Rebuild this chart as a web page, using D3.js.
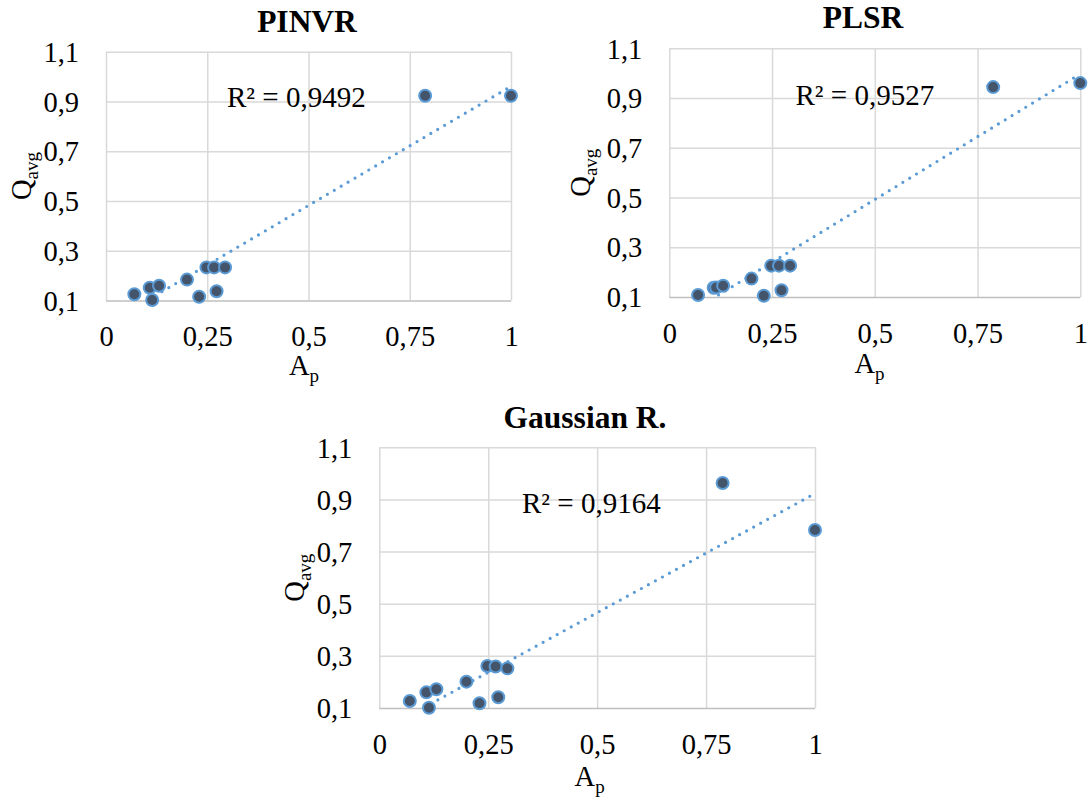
<!DOCTYPE html>
<html>
<head>
<meta charset="utf-8">
<script src="https://cdn.jsdelivr.net/npm/d3@7"></script>
<style>
  html, body { margin: 0; padding: 0; background: #fff; }
  svg { display: block; }
  text { font-family: "Liberation Serif", "Times New Roman", serif; fill: #000; }
</style>
</head>
<body>
<svg id="chart" width="1089" height="800"></svg>
<script>
// ---------- data ----------
const chartTitles = ["PINVR", "PLSR", "Gaussian R."];
const r2Labels = ["R² = 0,9492", "R² = 0,9527", "R² = 0,9164"];
const apValues = [0.070, 0.108, 0.114, 0.131, 0.200, 0.230, 0.248, 0.267, 0.294, 0.273, 0.788, 1.000];
const qavgPINVR = [0.125, 0.151, 0.102, 0.159, 0.184, 0.115, 0.233, 0.233, 0.233, 0.137, 0.923, 0.923];
const qavgPLSR = [0.108, 0.137, 0.138, 0.145, 0.174, 0.105, 0.226, 0.226, 0.226, 0.127, 0.944, 0.960];
const qavgGauss = [0.127, 0.160, 0.101, 0.172, 0.201, 0.118, 0.261, 0.259, 0.252, 0.141, 0.963, 0.783];
const seriesValues = [qavgPINVR, qavgPLSR, qavgGauss];
// linear trendline coefficients (Qavg = a + b * Ap)
const trendIntercepts = [0.003, -0.013, 0.008];
const trendSlopes = [0.958, 1.010, 0.915];
const xTickValues = [0, 0.25, 0.5, 0.75, 1];
const xTickLabels = ["0", "0,25", "0,5", "0,75", "1"];
const yTickValues = [0.1, 0.3, 0.5, 0.7, 0.9, 1.1];
const yTickLabels = ["0,1", "0,3", "0,5", "0,7", "0,9", "1,1"];

// ---------- layout (positions only) ----------
const layout = [
  { x0: 106, x1: 511, yTop: 51.7, yBot: 300.5, titleX: 307, titleY: 32, r2X: 227, r2Y: 107, yTitleX: 31, xTitleX: 304, xTitleY: 375 },
  { x0: 669.3, x1: 1080.3, yTop: 48.3, yBot: 297, titleX: 863, titleY: 28, r2X: 795.5, r2Y: 105, yTitleX: 589.5, xTitleX: 869.5, xTitleY: 373 },
  { x0: 379.3, x1: 815, yTop: 447.3, yBot: 708, titleX: 585, titleY: 428, r2X: 522, r2Y: 513, yTitleX: 303.7, xTitleX: 589.6, xTitleY: 786 }
];

const svg = d3.select("#chart");
const FONT = '"Liberation Serif", "Times New Roman", serif';

layout.forEach((L, k) => {
  const g = svg.append("g");
  const x = d3.scaleLinear().domain([0, 1]).range([L.x0, L.x1]);
  const y = d3.scaleLinear().domain([0.1, 1.1]).range([L.yBot, L.yTop]);
  const ys = seriesValues[k];

  const clipId = "clip" + k;
  svg.append("clipPath").attr("id", clipId)
    .append("rect").attr("x", L.x0).attr("y", L.yTop)
    .attr("width", L.x1 - L.x0).attr("height", L.yBot - L.yTop);

  // grid
  g.append("g")
    .attr("transform", `translate(0,${L.yBot})`)
    .call(d3.axisBottom(x).tickValues(xTickValues).tickFormat("").tickSize(-(L.yBot - L.yTop)))
    .call(s => s.select(".domain").remove())
    .call(s => s.selectAll("line").attr("stroke", "#d9d9d9").attr("stroke-width", 1.5));
  g.append("g")
    .attr("transform", `translate(${L.x0},0)`)
    .call(d3.axisLeft(y).tickValues(yTickValues).tickFormat("").tickSize(-(L.x1 - L.x0)))
    .call(s => s.select(".domain").remove())
    .call(s => s.selectAll("line").attr("stroke", (d) => d === 0.1 ? "#bfbfbf" : "#d9d9d9").attr("stroke-width", 1.5));

  // tick labels
  g.append("g")
    .attr("transform", `translate(0,${L.yBot})`)
    .call(d3.axisBottom(x).tickValues(xTickValues).tickFormat((d, i) => xTickLabels[i]).tickSize(0))
    .call(s => s.select(".domain").remove())
    .call(s => s.attr("font-family", FONT))
    .call(s => s.selectAll("text").attr("y", 45.5).attr("dy", null)
      .style("font-family", FONT).style("font-size", "28.5px").attr("fill", "#000"));
  g.append("g")
    .attr("transform", `translate(${L.x0},0)`)
    .call(d3.axisLeft(y).tickValues(yTickValues).tickFormat((d, i) => yTickLabels[i]).tickSize(0))
    .call(s => s.select(".domain").remove())
    .call(s => s.attr("font-family", FONT))
    .call(s => s.selectAll("text").attr("x", -27).attr("dy", "0.34em")
      .style("font-family", FONT).style("font-size", "28.5px").attr("fill", "#000"));

  // trendline (clipped to plot area)
  const a = trendIntercepts[k], b = trendSlopes[k];
  const xmin = d3.min(apValues), xmax = d3.max(apValues);
  g.append("line")
    .attr("clip-path", `url(#${clipId})`)
    .attr("x1", x(xmin)).attr("y1", y(a + b * xmin))
    .attr("x2", x(xmax)).attr("y2", y(a + b * xmax))
    .attr("stroke", "#5B9BD5").attr("stroke-width", 3.2)
    .attr("stroke-linecap", "round").attr("stroke-dasharray", "0 8");

  // points
  g.append("g").selectAll("circle")
    .data(apValues.map((v, i) => [v, ys[i]]))
    .join("circle")
    .attr("cx", d => x(d[0])).attr("cy", d => y(d[1]))
    .attr("r", 6)
    .attr("fill", "#44546A").attr("stroke", "#5B9BD5").attr("stroke-width", 2);

  // title
  g.append("text").attr("x", L.titleX).attr("y", L.titleY)
    .attr("text-anchor", "middle").style("font-size", "31.5px").style("font-weight", "bold")
    .text(chartTitles[k]);

  // R2
  g.append("text").attr("x", L.r2X).attr("y", L.r2Y)
    .style("font-size", "29px").text(r2Labels[k]);

  // axis titles
  const xt = g.append("text").attr("x", L.xTitleX).attr("y", L.xTitleY)
    .attr("text-anchor", "middle").style("font-size", "28.5px");
  xt.append("tspan").text("A");
  xt.append("tspan").attr("dy", 7).style("font-size", "19px").text("p");

  const cy = (L.yTop + L.yBot) / 2;
  const yt = g.append("text")
    .attr("transform", `translate(${L.yTitleX},${cy}) rotate(-90)`)
    .attr("text-anchor", "middle").style("font-size", "28.5px");
  yt.append("tspan").text("Q");
  yt.append("tspan").attr("dy", 7).style("font-size", "19px").text("avg");
});
</script>
</body>
</html>
